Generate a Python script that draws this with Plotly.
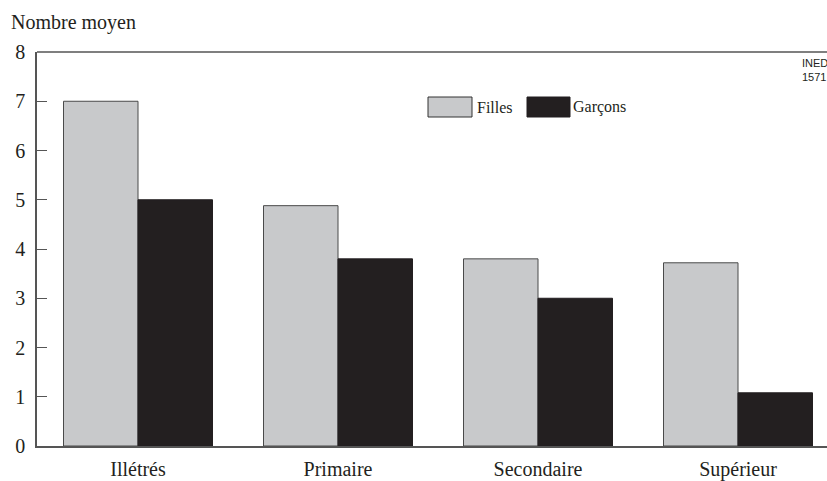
import plotly.graph_objects as go

categories = ["Illétrés", "Primaire", "Secondaire", "Supérieur"]
filles = [7.0, 4.88, 3.8, 3.72]
garcons = [5.0, 3.8, 3.0, 1.08]
y_ticks = [0, 1, 2, 3, 4, 5, 6, 7, 8]

serif = "Liberation Serif, Times New Roman, serif"
dark = "#231f20"
grey = "#c8c9cb"

fig = go.Figure()
fig.add_trace(go.Bar(x=categories, y=filles, name="Filles",
                     marker=dict(color=grey, line=dict(color="#4a4a4a", width=1))))
fig.add_trace(go.Bar(x=categories, y=garcons, name="Garçons",
                     marker=dict(color=dark, line=dict(color=dark, width=1))))

fig.update_layout(
    width=827, height=481,
    margin=dict(l=37, r=0, t=52, b=35),
    paper_bgcolor="white", plot_bgcolor="white",
    barmode="group", bargap=0.255, bargroupgap=0,
    showlegend=False,
    font=dict(family=serif, size=20, color=dark),
    xaxis=dict(range=[-0.505, 3.445], showgrid=False, zeroline=False,
               showline=True, linecolor="#555555", linewidth=1.5,
               ticks="", tickfont=dict(size=20, family=serif, color=dark),
               ticklabelstandoff=4, automargin=False),
    yaxis=dict(range=[0, 8], tickvals=y_ticks, showgrid=False, zeroline=False,
               showline=True, linecolor="#555555", linewidth=1.5,
               ticks="inside", ticklen=10, tickcolor="#555555", tickwidth=1,
               tickfont=dict(size=20, family=serif, color=dark),
               ticklabelstandoff=6, automargin=False),
)

# top frame line
fig.add_shape(type="line", xref="paper", yref="paper", x0=0, x1=1, y0=1, y1=1,
              line=dict(color="#555555", width=1.5))

def px_x(p):
    return (p - 37) / 790
def px_y(p):
    return (446 - p) / 394

# axis title
fig.add_annotation(text="Nombre moyen", xref="paper", yref="paper",
                   x=px_x(9), y=px_y(23), xanchor="left", yanchor="middle",
                   showarrow=False, font=dict(family=serif, size=20, color=dark))

# legend drawn manually
fig.add_shape(type="rect", xref="paper", yref="paper",
              x0=px_x(428), x1=px_x(472), y0=px_y(117), y1=px_y(97),
              fillcolor=grey, line=dict(color="#333333", width=1))
fig.add_annotation(text="Filles", xref="paper", yref="paper",
                   x=px_x(475), y=px_y(107), xanchor="left", yanchor="middle",
                   showarrow=False, font=dict(family=serif, size=16, color=dark))
fig.add_shape(type="rect", xref="paper", yref="paper",
              x0=px_x(527), x1=px_x(570), y0=px_y(117), y1=px_y(97),
              fillcolor=dark, line=dict(color=dark, width=1))
fig.add_annotation(text="Garçons", xref="paper", yref="paper",
                   x=px_x(571), y=px_y(107), xanchor="left", yanchor="middle",
                   showarrow=False, font=dict(family=serif, size=16, color=dark))

# source code
fig.add_annotation(text="INED<br>1571", xref="paper", yref="paper",
                   x=px_x(800), y=px_y(70), xanchor="left", yanchor="middle",
                   align="left", showarrow=False,
                   font=dict(family="Liberation Sans Narrow, Arial Narrow, Liberation Sans, sans-serif",
                             size=11, color=dark))

fig.write_html("out.html", config={"displayModeBar": False},
               post_script="document.body.style.margin='0';document.body.style.overflow='hidden';")
